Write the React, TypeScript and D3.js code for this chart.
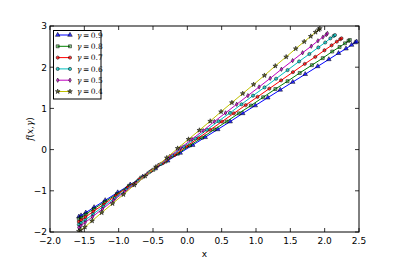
import React from "react";
import * as d3 from "d3";

const W = 399, H = 266;
const M = { left: 50, right: 40, top: 26, bottom: 34 };

const xTicks = [-2.0, -1.5, -1.0, -0.5, 0.0, 0.5, 1.0, 1.5, 2.0, 2.5];
const yTicks = [-2, -1, 0, 1, 2, 3];

const gammas = ["0.9", "0.8", "0.7", "0.6", "0.5", "0.4"];
const colors = ["#0000ff", "#008000", "#ff0000", "#00bfbf", "#bf00bf", "#bfbf00"];
const markers = ["triangle", "square", "hexagon", "circle", "diamond", "star"];

const x09 = [-1.58, -1.548, -1.479, -1.358, -1.196, -1.014, -0.832, -0.65, -0.468, -0.286, -0.104, 0.078, 0.26, 0.443, 0.624, 0.807, 0.989, 1.171, 1.353, 1.535, 1.717, 1.899, 2.061, 2.202, 2.311, 2.392, 2.445, 2.465];
const y09 = [-1.63, -1.6, -1.53, -1.4, -1.23, -1.04, -0.85, -0.66, -0.46, -0.27, -0.08, 0.11, 0.3, 0.49, 0.68, 0.88, 1.07, 1.26, 1.45, 1.64, 1.83, 2.02, 2.19, 2.34, 2.45, 2.54, 2.6, 2.62];

const x08 = [-1.58, -1.548, -1.481, -1.363, -1.205, -1.027, -0.85, -0.672, -0.495, -0.317, -0.139, 0.038, 0.216, 0.394, 0.571, 0.749, 0.926, 1.104, 1.282, 1.459, 1.637, 1.814, 1.972, 2.11, 2.217, 2.296, 2.347, 2.367];
const y08 = [-1.68, -1.65, -1.57, -1.44, -1.27, -1.08, -0.88, -0.68, -0.49, -0.29, -0.1, 0.1, 0.29, 0.49, 0.68, 0.88, 1.07, 1.27, 1.47, 1.66, 1.86, 2.05, 2.22, 2.38, 2.49, 2.58, 2.64, 2.66];

const x07 = [-1.58, -1.549, -1.484, -1.37, -1.217, -1.044, -0.872, -0.7, -0.528, -0.356, -0.184, -0.011, 0.161, 0.333, 0.505, 0.677, 0.85, 1.022, 1.194, 1.366, 1.538, 1.71, 1.863, 1.997, 2.101, 2.177, 2.227, 2.246];
const y07 = [-1.75, -1.71, -1.64, -1.5, -1.33, -1.12, -0.92, -0.72, -0.52, -0.33, -0.13, 0.08, 0.28, 0.48, 0.68, 0.88, 1.08, 1.28, 1.48, 1.68, 1.88, 2.08, 2.25, 2.41, 2.53, 2.62, 2.68, 2.7];

const x06 = [-1.58, -1.55, -1.487, -1.375, -1.226, -1.058, -0.89, -0.722, -0.554, -0.386, -0.219, -0.051, 0.117, 0.285, 0.453, 0.621, 0.789, 0.956, 1.124, 1.292, 1.46, 1.628, 1.777, 1.908, 2.008, 2.083, 2.131, 2.15];
const y06 = [-1.82, -1.78, -1.71, -1.57, -1.38, -1.18, -0.97, -0.76, -0.55, -0.35, -0.14, 0.07, 0.27, 0.48, 0.69, 0.89, 1.1, 1.31, 1.51, 1.72, 1.93, 2.14, 2.32, 2.48, 2.6, 2.7, 2.76, 2.78];

const x05 = [-1.58, -1.551, -1.489, -1.381, -1.236, -1.073, -0.91, -0.747, -0.584, -0.422, -0.259, -0.096, 0.067, 0.23, 0.393, 0.556, 0.719, 0.882, 1.045, 1.207, 1.37, 1.533, 1.678, 1.805, 1.902, 1.975, 2.022, 2.04];
const y05 = [-1.89, -1.85, -1.77, -1.63, -1.44, -1.23, -1.02, -0.81, -0.59, -0.38, -0.17, 0.04, 0.25, 0.46, 0.68, 0.89, 1.1, 1.31, 1.52, 1.73, 1.95, 2.16, 2.35, 2.51, 2.64, 2.73, 2.79, 2.82];

const x04 = [-1.58, -1.552, -1.492, -1.387, -1.247, -1.089, -0.931, -0.773, -0.615, -0.457, -0.299, -0.141, 0.017, 0.175, 0.333, 0.491, 0.649, 0.807, 0.965, 1.123, 1.281, 1.439, 1.579, 1.702, 1.797, 1.867, 1.912, 1.93];
const y04 = [-1.98, -1.95, -1.88, -1.73, -1.53, -1.31, -1.09, -0.86, -0.64, -0.42, -0.2, 0.03, 0.25, 0.47, 0.69, 0.92, 1.14, 1.36, 1.58, 1.8, 2.03, 2.25, 2.45, 2.62, 2.75, 2.85, 2.91, 2.94];

const seriesX = [x09, x08, x07, x06, x05, x04];
const seriesY = [y09, y08, y07, y06, y05, y04];

function markerPath(kind: string): string | null {
  switch (kind) {
    case "triangle": return d3.symbol(d3.symbolTriangle, 9)();
    case "square": return d3.symbol(d3.symbolSquare, 9)();
    case "circle": return d3.symbol(d3.symbolCircle, 8)();
    case "hexagon": {
      const r = 1.7;
      const pts = d3.range(6).map(i => {
        const a = Math.PI / 6 + i * Math.PI / 3;
        return [r * Math.cos(a), r * Math.sin(a)];
      });
      return "M" + pts.map(p => p.join(",")).join("L") + "Z";
    }
    case "diamond": return "M0,-2.2L1.3,0L0,2.2L-1.3,0Z";
    case "star": return d3.symbol(d3.symbolStar, 7)();
  }
  return null;
}

function Marker({ kind, color, x, y }: { kind: string; color: string; x: number; y: number }) {
  const fill = kind === "star" ? "#3a3a10" : color;
  return (
    <path d={markerPath(kind) || ""} transform={`translate(${x},${y})`}
      fill={fill} fillOpacity={kind === "square" ? 0.45 : 0.75} stroke="#000" strokeWidth={0.5} />
  );
}

export default function App() {
  const xs = d3.scaleLinear().domain([-2, 2.5]).range([M.left, W - M.right]);
  const ys = d3.scaleLinear().domain([-2, 3]).range([H - M.bottom, M.top]);
  const line = d3.line<[number, number]>().x(d => xs(d[0])).y(d => ys(d[1]));
  const x0 = xs(-2), x1 = xs(2.5), y0 = ys(-2), y1 = ys(3);
  const fmt = (v: number) => (v < 0 ? "\u2212" : "") + Math.abs(v).toFixed(1);
  const fmtY = (v: number) => (v < 0 ? "\u2212" : "") + Math.abs(v).toString();
  const tick = 4;
  const legX = 53.5, legY = 30.5, legW = 47.5, legH = 68.5;
  const rowH = 11.3;

  return (
    <svg width={W} height={H} style={{ position: "absolute", left: 0, top: 0, background: "#fff" }}
      fontFamily="'DejaVu Sans', sans-serif">
      <rect x={0} y={0} width={W} height={H} fill="#fff" />
      <defs>
        <clipPath id="plotclip">
          <rect x={x0} y={y1} width={x1 - x0} height={y0 - y1} />
        </clipPath>
      </defs>
      <g clipPath="url(#plotclip)">
        {seriesX.map((sx, i) => {
          const pts = sx.map((v, j) => [v, seriesY[i][j]] as [number, number]);
          return (
            <g key={i}>
              <path d={line(pts) || ""} fill="none" stroke={colors[i]} strokeWidth={1} />
              {pts.map((p, j) => (
                <Marker key={j} kind={markers[i]} color={colors[i]} x={xs(p[0])} y={ys(p[1])} />
              ))}
            </g>
          );
        })}
      </g>
      <rect x={x0} y={y1} width={x1 - x0} height={y0 - y1} fill="none" stroke="#000" strokeWidth={1} />
      {xTicks.map((t, i) => (
        <g key={"xt" + i}>
          <line x1={xs(t)} x2={xs(t)} y1={y0} y2={y0 - tick} stroke="#000" strokeWidth={0.8} />
          <line x1={xs(t)} x2={xs(t)} y1={y1} y2={y1 + tick} stroke="#000" strokeWidth={0.8} />
          <text x={xs(t)} y={y0 + 12} fontSize={9} textAnchor="middle" fill="#000">{fmt(t)}</text>
        </g>
      ))}
      {yTicks.map((t, i) => (
        <g key={"yt" + i}>
          <line x1={x0} x2={x0 + tick} y1={ys(t)} y2={ys(t)} stroke="#000" strokeWidth={0.8} />
          <line x1={x1} x2={x1 - tick} y1={ys(t)} y2={ys(t)} stroke="#000" strokeWidth={0.8} />
          <text x={x0 - 3} y={ys(t) + 3.3} fontSize={9} textAnchor="end" fill="#000">{fmtY(t)}</text>
        </g>
      ))}
      <text x={(x0 + x1) / 2} y={257} fontSize={9} textAnchor="middle" fill="#000">x</text>
      <text transform={`translate(33,${(y0 + y1) / 2}) rotate(-90)`} fontSize={9} textAnchor="middle"
        fontFamily="'DejaVu Serif', serif" fill="#000">
        <tspan fontStyle="italic">f</tspan>(<tspan fontStyle="italic">x</tspan>,<tspan fontStyle="italic">γ</tspan>)
      </text>
      <rect x={legX} y={legY} width={legW} height={legH} fill="#fff" stroke="#000" strokeWidth={1} />
      {gammas.map((g, i) => {
        const cy = 35 + i * rowH;
        return (
          <g key={"lg" + i}>
            <line x1={57.7} x2={70} y1={cy} y2={cy} stroke={colors[i]} strokeWidth={1} />
            <Marker kind={markers[i]} color={colors[i]} x={57.7} y={cy} />
            <Marker kind={markers[i]} color={colors[i]} x={70} y={cy} />
            <text x={77} y={cy + 2.8} fontSize={7.5} fontFamily="'DejaVu Serif', serif" fill="#000">
              <tspan fontStyle="italic">γ</tspan>{"\u2009=\u2009"}{g}
            </text>
          </g>
        );
      })}
    </svg>
  );
}
